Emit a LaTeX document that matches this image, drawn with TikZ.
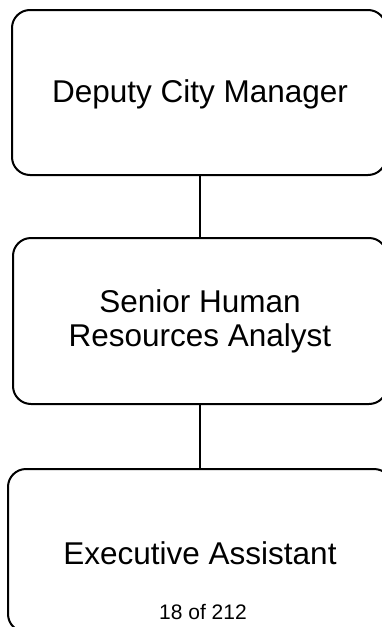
\documentclass[tikz,border=0pt]{standalone}
\usepackage{fontspec}
\setmainfont{Liberation Sans}
\begin{document}
\begin{tikzpicture}[x=1pt,y=-1pt,
  orgbox/.style={draw=black,line width=2pt,rounded corners=18pt,fill=white},
  link/.style={draw=black,line width=2pt},
  boxtext/.style={align=center,font=\fontsize{31.5}{34}\selectfont,inner sep=0pt}]
\useasboundingbox (0,0) rectangle (381,627);
\draw[orgbox] (12,10) rectangle (386,175);
\draw[orgbox] (13,238) rectangle (387,404);
\draw[orgbox] (8,469) rectangle (392,632);
\node[boxtext] (dcm) at (200,94) {Deputy City Manager};
\node[boxtext] (shra) at (200,321) {Senior Human\\Resources Analyst};
\node[boxtext] (ea) at (200,553) {Executive Assistant};
\coordinate (b1) at (200,175);
\coordinate (t2) at (200,238);
\coordinate (b2) at (200,404);
\coordinate (t3) at (200,469);
\draw[link] (b1) -- (t2);
\draw[link] (b2) -- (t3);
\node[font=\fontsize{21}{24}\selectfont,inner sep=0pt] (pg) at (203,612) {18 of 212};
\end{tikzpicture}
\end{document}
